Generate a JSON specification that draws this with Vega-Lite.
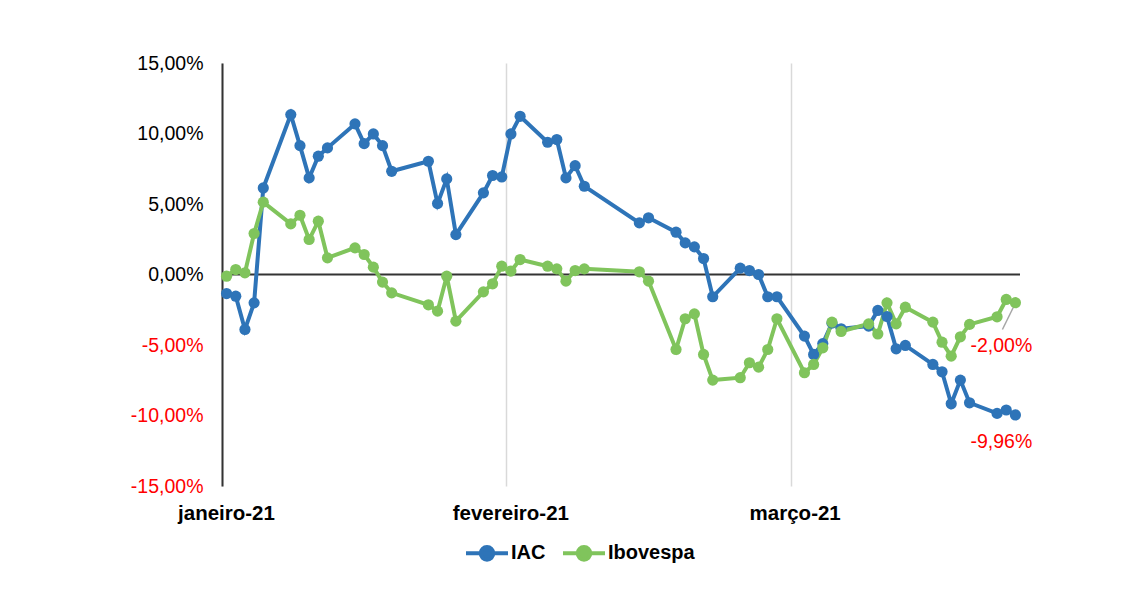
{
  "$schema": "https://vega.github.io/schema/vega-lite/v6.json",
  "width": 798,
  "height": 423,
  "autosize": "none",
  "padding": {"left": 222, "top": 63, "right": 113, "bottom": 113},
  "background": "white",
  "config": {"view": {"stroke": null}, "font": "Liberation Sans"},
  "data": {
    "values": [
      {"date": "2021-01-04T00:00:00", "IAC": -1.35, "Ibovespa": -0.12},
      {"date": "2021-01-05T00:00:00", "IAC": -1.54, "Ibovespa": 0.35},
      {"date": "2021-01-06T00:00:00", "IAC": -3.9, "Ibovespa": 0.12},
      {"date": "2021-01-07T00:00:00", "IAC": -2.01, "Ibovespa": 2.91},
      {"date": "2021-01-08T00:00:00", "IAC": 6.14, "Ibovespa": 5.13},
      {"date": "2021-01-11T00:00:00", "IAC": 11.34, "Ibovespa": 3.59},
      {"date": "2021-01-12T00:00:00", "IAC": 9.14, "Ibovespa": 4.2},
      {"date": "2021-01-13T00:00:00", "IAC": 6.85, "Ibovespa": 2.48},
      {"date": "2021-01-14T00:00:00", "IAC": 8.39, "Ibovespa": 3.78},
      {"date": "2021-01-15T00:00:00", "IAC": 8.98, "Ibovespa": 1.18},
      {"date": "2021-01-18T00:00:00", "IAC": 10.68, "Ibovespa": 1.89},
      {"date": "2021-01-19T00:00:00", "IAC": 9.28, "Ibovespa": 1.42},
      {"date": "2021-01-20T00:00:00", "IAC": 9.97, "Ibovespa": 0.52},
      {"date": "2021-01-21T00:00:00", "IAC": 9.14, "Ibovespa": -0.54},
      {"date": "2021-01-22T00:00:00", "IAC": 7.32, "Ibovespa": -1.3},
      {"date": "2021-01-26T00:00:00", "IAC": 8.03, "Ibovespa": -2.15},
      {"date": "2021-01-27T00:00:00", "IAC": 5.03, "Ibovespa": -2.6},
      {"date": "2021-01-28T00:00:00", "IAC": 6.78, "Ibovespa": -0.12},
      {"date": "2021-01-29T00:00:00", "IAC": 2.83, "Ibovespa": -3.31},
      {"date": "2021-02-01T00:00:00", "IAC": 5.79, "Ibovespa": -1.23},
      {"date": "2021-02-02T00:00:00", "IAC": 7.02, "Ibovespa": -0.66},
      {"date": "2021-02-03T00:00:00", "IAC": 6.92, "Ibovespa": 0.59},
      {"date": "2021-02-04T00:00:00", "IAC": 9.97, "Ibovespa": 0.24},
      {"date": "2021-02-05T00:00:00", "IAC": 11.22, "Ibovespa": 1.06},
      {"date": "2021-02-08T00:00:00", "IAC": 9.38, "Ibovespa": 0.59},
      {"date": "2021-02-09T00:00:00", "IAC": 9.57, "Ibovespa": 0.4},
      {"date": "2021-02-10T00:00:00", "IAC": 6.85, "Ibovespa": -0.47},
      {"date": "2021-02-11T00:00:00", "IAC": 7.72, "Ibovespa": 0.28},
      {"date": "2021-02-12T00:00:00", "IAC": 6.26, "Ibovespa": 0.4},
      {"date": "2021-02-18T00:00:00", "IAC": 3.66, "Ibovespa": 0.19},
      {"date": "2021-02-19T00:00:00", "IAC": 4.02, "Ibovespa": -0.47},
      {"date": "2021-02-22T00:00:00", "IAC": 3.0, "Ibovespa": -5.32},
      {"date": "2021-02-23T00:00:00", "IAC": 2.24, "Ibovespa": -3.14},
      {"date": "2021-02-24T00:00:00", "IAC": 1.96, "Ibovespa": -2.79},
      {"date": "2021-02-25T00:00:00", "IAC": 1.13, "Ibovespa": -5.67},
      {"date": "2021-02-26T00:00:00", "IAC": -1.58, "Ibovespa": -7.49},
      {"date": "2021-03-01T00:00:00", "IAC": 0.45, "Ibovespa": -7.32},
      {"date": "2021-03-02T00:00:00", "IAC": 0.28, "Ibovespa": -6.26},
      {"date": "2021-03-03T00:00:00", "IAC": 0.0, "Ibovespa": -6.57},
      {"date": "2021-03-04T00:00:00", "IAC": -1.58, "Ibovespa": -5.32},
      {"date": "2021-03-05T00:00:00", "IAC": -1.58, "Ibovespa": -3.14},
      {"date": "2021-03-08T00:00:00", "IAC": -4.37, "Ibovespa": -6.97},
      {"date": "2021-03-09T00:00:00", "IAC": -5.67, "Ibovespa": -6.38},
      {"date": "2021-03-10T00:00:00", "IAC": -4.9, "Ibovespa": -5.2},
      {"date": "2021-03-11T00:00:00", "IAC": -3.45, "Ibovespa": -3.38},
      {"date": "2021-03-12T00:00:00", "IAC": -3.85, "Ibovespa": -4.04},
      {"date": "2021-03-15T00:00:00", "IAC": -3.66, "Ibovespa": -3.5},
      {"date": "2021-03-16T00:00:00", "IAC": -2.55, "Ibovespa": -4.22},
      {"date": "2021-03-17T00:00:00", "IAC": -2.98, "Ibovespa": -2.01},
      {"date": "2021-03-18T00:00:00", "IAC": -5.27, "Ibovespa": -3.5},
      {"date": "2021-03-19T00:00:00", "IAC": -5.03, "Ibovespa": -2.32},
      {"date": "2021-03-22T00:00:00", "IAC": -6.38, "Ibovespa": -3.38},
      {"date": "2021-03-23T00:00:00", "IAC": -6.9, "Ibovespa": -4.8},
      {"date": "2021-03-24T00:00:00", "IAC": -9.17, "Ibovespa": -5.79},
      {"date": "2021-03-25T00:00:00", "IAC": -7.49, "Ibovespa": -4.42},
      {"date": "2021-03-26T00:00:00", "IAC": -9.1, "Ibovespa": -3.54},
      {"date": "2021-03-29T00:00:00", "IAC": -9.85, "Ibovespa": -3.0},
      {"date": "2021-03-30T00:00:00", "IAC": -9.61, "Ibovespa": -1.77},
      {"date": "2021-03-31T00:00:00", "IAC": -9.96, "Ibovespa": -2.0}
    ]
  },
  "layer": [
    {
      "data": {"values": [{}]},
      "mark": {"type": "rule", "color": "#333333", "strokeWidth": 2},
      "encoding": {"y": {"datum": 0, "type": "quantitative"}}
    },
    {
      "transform": [{"fold": ["IAC", "Ibovespa"], "as": ["serie", "value"]}],
      "mark": {"type": "line", "strokeWidth": 4, "point": {"filled": true, "size": 125}},
      "encoding": {
        "x": {
          "field": "date",
          "type": "temporal",
          "scale": {"domain": [{"year": 2021, "month": 1, "date": 3, "hours": 12}, {"year": 2021, "month": 3, "date": 31, "hours": 12}]},
          "axis": {
            "title": null,
            "values": [{"year": 2021, "month": 1, "date": 3, "hours": 12}, {"year": 2021, "month": 2, "date": 3, "hours": 12}, {"year": 2021, "month": 3, "date": 6, "hours": 12}],
            "labelExpr": "['janeiro','fevereiro','março'][month(datum.value)] + '-21'",
            "domain": false,
            "ticks": false,
            "grid": true,
            "gridColor": "#D9D9D9",
            "gridWidth": 1.5,
            "labelFontSize": 20.5,
            "labelFontWeight": "bold",
            "labelColor": "black",
            "labelPadding": 17,
            "labelOffset": 4,
            "labelFlush": false,
            "labelOverlap": false
          }
        },
        "y": {
          "field": "value",
          "type": "quantitative",
          "scale": {"domain": [-15, 15], "nice": false, "zero": false},
          "axis": {
            "title": null,
            "values": [-15, -10, -5, 0, 5, 10, 15],
            "labelExpr": "(datum.value < 0 ? '-' : '') + replace(format(abs(datum.value), '.2f'), '.', ',') + '%'",
            "grid": false,
            "ticks": false,
            "domainColor": "#333333",
            "domainWidth": 2,
            "labelFontSize": 19.5,
            "labelColor": {"condition": {"test": "datum.value < 0", "value": "#FF0000"}, "value": "black"},
            "labelPadding": 19
          }
        },
        "color": {
          "field": "serie",
          "type": "nominal",
          "scale": {"domain": ["IAC", "Ibovespa"], "range": ["#2E74B8", "#80C45C"]},
          "legend": {
            "title": null,
            "orient": "none",
            "legendX": 242,
            "legendY": 467,
            "direction": "horizontal",
            "symbolType": "M -1 0 L 1 0 M 0.3 0 A 0.3 0.3 0 1 1 -0.3 0 A 0.3 0.3 0 1 1 0.3 0 Z",
            "symbolSize": 1764,
            "symbolStrokeWidth": 4,
            "labelFontSize": 20,
            "labelFontWeight": "bold",
            "labelColor": "black",
            "labelOffset": 1,
            "columnPadding": 9,
            "padding": 0,
            "encode": {"symbols": {"update": {"fill": {"scale": "color", "field": "value"}, "stroke": {"scale": "color", "field": "value"}}}}
          }
        }
      }
    },
    {
      "data": {"values": [{"date": "2021-03-30T18:00:00", "value": -2.36, "date2": "2021-03-29T14:00:00", "value2": -3.9}]},
      "mark": {"type": "rule", "color": "#A6A6A6", "strokeWidth": 1.5},
      "encoding": {
        "x": {"field": "date", "type": "temporal"},
        "x2": {"field": "date2"},
        "y": {"field": "value", "type": "quantitative"},
        "y2": {"field": "value2"}
      }
    },
    {
      "data": {"values": [{"date": "2021-03-31T00:00:00", "value": -2.0, "label": "-2,00%"}]},
      "mark": {"type": "text", "color": "#FF0000", "fontSize": 19.5, "align": "center", "baseline": "middle", "dx": -14, "dy": 43.5},
      "encoding": {
        "x": {"field": "date", "type": "temporal"},
        "y": {"field": "value", "type": "quantitative"},
        "text": {"field": "label"}
      }
    },
    {
      "data": {"values": [{"date": "2021-03-31T00:00:00", "value": -9.96, "label": "-9,96%"}]},
      "mark": {"type": "text", "color": "#FF0000", "fontSize": 19.5, "align": "center", "baseline": "middle", "dx": -14, "dy": 27.5},
      "encoding": {
        "x": {"field": "date", "type": "temporal"},
        "y": {"field": "value", "type": "quantitative"},
        "text": {"field": "label"}
      }
    }
  ]
}
